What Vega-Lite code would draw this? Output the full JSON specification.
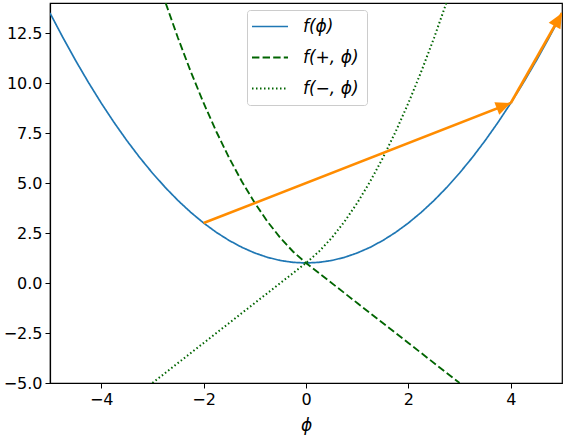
{
  "$schema": "https://vega.github.io/schema/vega-lite/v6.json",
  "width": 512,
  "height": 380,
  "autosize": {"type": "none"},
  "padding": {"left": 50, "top": 3, "right": 2, "bottom": 55},
  "config": {
    "view": {"stroke": "black", "strokeWidth": 1.2},
    "axis": {
      "domainColor": "black", "domainWidth": 1.2, "tickColor": "black", "tickSize": 5, "tickWidth": 1,
      "labelColor": "black", "labelFont": "DejaVu Sans", "labelFontSize": 16, "labelPadding": 3,
      "grid": false, "titleFont": "DejaVu Sans", "titleFontSize": 17, "titleFontStyle": "italic",
      "titleFontWeight": "normal", "titleColor": "black"
    },
    "legend": {"rowPadding": 13}
  },
  "datasets": {
    "curves": [
      {"series": "f(ϕ)", "phi": -5, "value": 13.5},
      {"series": "f(ϕ)", "phi": -4.75, "value": 12.28125},
      {"series": "f(ϕ)", "phi": -4.5, "value": 11.125},
      {"series": "f(ϕ)", "phi": -4.25, "value": 10.03125},
      {"series": "f(ϕ)", "phi": -4, "value": 9},
      {"series": "f(ϕ)", "phi": -3.75, "value": 8.03125},
      {"series": "f(ϕ)", "phi": -3.5, "value": 7.125},
      {"series": "f(ϕ)", "phi": -3.25, "value": 6.28125},
      {"series": "f(ϕ)", "phi": -3, "value": 5.5},
      {"series": "f(ϕ)", "phi": -2.75, "value": 4.78125},
      {"series": "f(ϕ)", "phi": -2.5, "value": 4.125},
      {"series": "f(ϕ)", "phi": -2.25, "value": 3.53125},
      {"series": "f(ϕ)", "phi": -2, "value": 3},
      {"series": "f(ϕ)", "phi": -1.75, "value": 2.53125},
      {"series": "f(ϕ)", "phi": -1.5, "value": 2.125},
      {"series": "f(ϕ)", "phi": -1.25, "value": 1.78125},
      {"series": "f(ϕ)", "phi": -1, "value": 1.5},
      {"series": "f(ϕ)", "phi": -0.75, "value": 1.28125},
      {"series": "f(ϕ)", "phi": -0.5, "value": 1.125},
      {"series": "f(ϕ)", "phi": -0.25, "value": 1.03125},
      {"series": "f(ϕ)", "phi": 0, "value": 1},
      {"series": "f(ϕ)", "phi": 0.25, "value": 1.03125},
      {"series": "f(ϕ)", "phi": 0.5, "value": 1.125},
      {"series": "f(ϕ)", "phi": 0.75, "value": 1.28125},
      {"series": "f(ϕ)", "phi": 1, "value": 1.5},
      {"series": "f(ϕ)", "phi": 1.25, "value": 1.78125},
      {"series": "f(ϕ)", "phi": 1.5, "value": 2.125},
      {"series": "f(ϕ)", "phi": 1.75, "value": 2.53125},
      {"series": "f(ϕ)", "phi": 2, "value": 3},
      {"series": "f(ϕ)", "phi": 2.25, "value": 3.53125},
      {"series": "f(ϕ)", "phi": 2.5, "value": 4.125},
      {"series": "f(ϕ)", "phi": 2.75, "value": 4.78125},
      {"series": "f(ϕ)", "phi": 3, "value": 5.5},
      {"series": "f(ϕ)", "phi": 3.25, "value": 6.28125},
      {"series": "f(ϕ)", "phi": 3.5, "value": 7.125},
      {"series": "f(ϕ)", "phi": 3.75, "value": 8.03125},
      {"series": "f(ϕ)", "phi": 4, "value": 9},
      {"series": "f(ϕ)", "phi": 4.25, "value": 10.03125},
      {"series": "f(ϕ)", "phi": 4.5, "value": 11.125},
      {"series": "f(ϕ)", "phi": 4.75, "value": 12.28125},
      {"series": "f(ϕ)", "phi": 5, "value": 13.5},

      {"series": "f(+, ϕ)", "phi": -2.74, "value": 13.99},
      {"series": "f(+, ϕ)", "phi": -2.5, "value": 12.25},
      {"series": "f(+, ϕ)", "phi": -2.25, "value": 10.5625},
      {"series": "f(+, ϕ)", "phi": -2, "value": 9},
      {"series": "f(+, ϕ)", "phi": -1.75, "value": 7.5625},
      {"series": "f(+, ϕ)", "phi": -1.5, "value": 6.25},
      {"series": "f(+, ϕ)", "phi": -1.25, "value": 5.0625},
      {"series": "f(+, ϕ)", "phi": -1, "value": 4},
      {"series": "f(+, ϕ)", "phi": -0.75, "value": 3.0625},
      {"series": "f(+, ϕ)", "phi": -0.5, "value": 2.25},
      {"series": "f(+, ϕ)", "phi": -0.25, "value": 1.5625},
      {"series": "f(+, ϕ)", "phi": 0, "value": 1},
      {"series": "f(+, ϕ)", "phi": 1, "value": -1},
      {"series": "f(+, ϕ)", "phi": 2, "value": -3},
      {"series": "f(+, ϕ)", "phi": 3, "value": -5},

      {"series": "f(−, ϕ)", "phi": -3, "value": -5},
      {"series": "f(−, ϕ)", "phi": -2, "value": -3},
      {"series": "f(−, ϕ)", "phi": -1, "value": -1},
      {"series": "f(−, ϕ)", "phi": 0, "value": 1},
      {"series": "f(−, ϕ)", "phi": 0.25, "value": 1.5625},
      {"series": "f(−, ϕ)", "phi": 0.5, "value": 2.25},
      {"series": "f(−, ϕ)", "phi": 0.75, "value": 3.0625},
      {"series": "f(−, ϕ)", "phi": 1, "value": 4},
      {"series": "f(−, ϕ)", "phi": 1.25, "value": 5.0625},
      {"series": "f(−, ϕ)", "phi": 1.5, "value": 6.25},
      {"series": "f(−, ϕ)", "phi": 1.75, "value": 7.5625},
      {"series": "f(−, ϕ)", "phi": 2, "value": 9},
      {"series": "f(−, ϕ)", "phi": 2.25, "value": 10.5625},
      {"series": "f(−, ϕ)", "phi": 2.5, "value": 12.25},
      {"series": "f(−, ϕ)", "phi": 2.74, "value": 13.99}
    ],
    "arrows": [
      {"arrow": "a1", "part": "tail", "phi": -2, "value": 3},
      {"arrow": "a1", "part": "tip", "phi": 4, "value": 9},
      {"arrow": "a2", "part": "tail", "phi": 4, "value": 9},
      {"arrow": "a2", "part": "tip", "phi": 5, "value": 13.5}
    ]
  },
  "layer": [
    {
      "data": {"name": "curves"},
      "mark": {"type": "line", "clip": true},
      "encoding": {
        "x": {"field": "phi", "type": "quantitative", "scale": {"domain": [-5, 5], "nice": false, "zero": false},
              "axis": {"title": "ϕ", "values": [-4, -2, 0, 2, 4], "format": "d", "titlePadding": 10}},
        "y": {"field": "value", "type": "quantitative", "scale": {"domain": [-5, 14], "nice": false, "zero": false},
              "axis": {"title": null, "values": [-5, -2.5, 0, 2.5, 5, 7.5, 10, 12.5], "format": ".1f"}},
        "order": {"field": "phi", "type": "quantitative"},
        "color": {
          "field": "series", "type": "nominal",
          "scale": {"domain": ["f(ϕ)", "f(+, ϕ)", "f(−, ϕ)"], "range": ["#1f77b4", "#006400", "#006400"]},
          "legend": {
            "title": null, "orient": "none", "legendX": 197, "legendY": 7,
            "symbolType": "M-2.3,0L4.9,0", "symbolSize": 100, "symbolFillColor": "transparent",
            "labelFont": "DejaVu Sans", "labelFontSize": 17, "labelFontStyle": "italic", "labelColor": "black",
            "labelOffset": 31, "rowPadding": 13, "padding": 8,
            "strokeColor": "#cccccc", "fillColor": "rgba(255,255,255,0.8)", "cornerRadius": 3
          }
        },
        "strokeDash": {
          "field": "series", "type": "nominal",
          "scale": {"domain": ["f(ϕ)", "f(+, ϕ)", "f(−, ϕ)"], "range": [[1, 0], [7.4, 3.2], [1.5, 2.5]]},
          "legend": null
        },
        "strokeWidth": {
          "field": "series", "type": "nominal",
          "scale": {"domain": ["f(ϕ)", "f(+, ϕ)", "f(−, ϕ)"], "range": [1.7, 2, 1.5]},
          "legend": null
        }
      }
    },
    {
      "data": {"name": "arrows"},
      "mark": {"type": "line", "color": "#ff8c00", "strokeWidth": 2.6, "clip": true},
      "encoding": {
        "x": {"field": "phi", "type": "quantitative"},
        "y": {"field": "value", "type": "quantitative"},
        "detail": {"field": "arrow", "type": "nominal"}
      }
    },
    {
      "data": {"name": "arrows"},
      "transform": [{"filter": "datum.arrow == 'a1' && datum.part == 'tip'"}],
      "mark": {"type": "point", "shape": "M0,0L-0.45,1L0.45,1Z", "size": 900, "angle": 68.7, "filled": true, "color": "#ff8c00", "opacity": 1},
      "encoding": {
        "x": {"field": "phi", "type": "quantitative"},
        "y": {"field": "value", "type": "quantitative"}
      }
    },
    {
      "data": {"name": "arrows"},
      "transform": [{"filter": "datum.arrow == 'a2' && datum.part == 'tip'"}],
      "mark": {"type": "point", "shape": "M0,0L-0.45,1L0.45,1Z", "size": 900, "angle": 29.7, "filled": true, "color": "#ff8c00", "opacity": 1},
      "encoding": {
        "x": {"field": "phi", "type": "quantitative"},
        "y": {"field": "value", "type": "quantitative"}
      }
    }
  ]
}
